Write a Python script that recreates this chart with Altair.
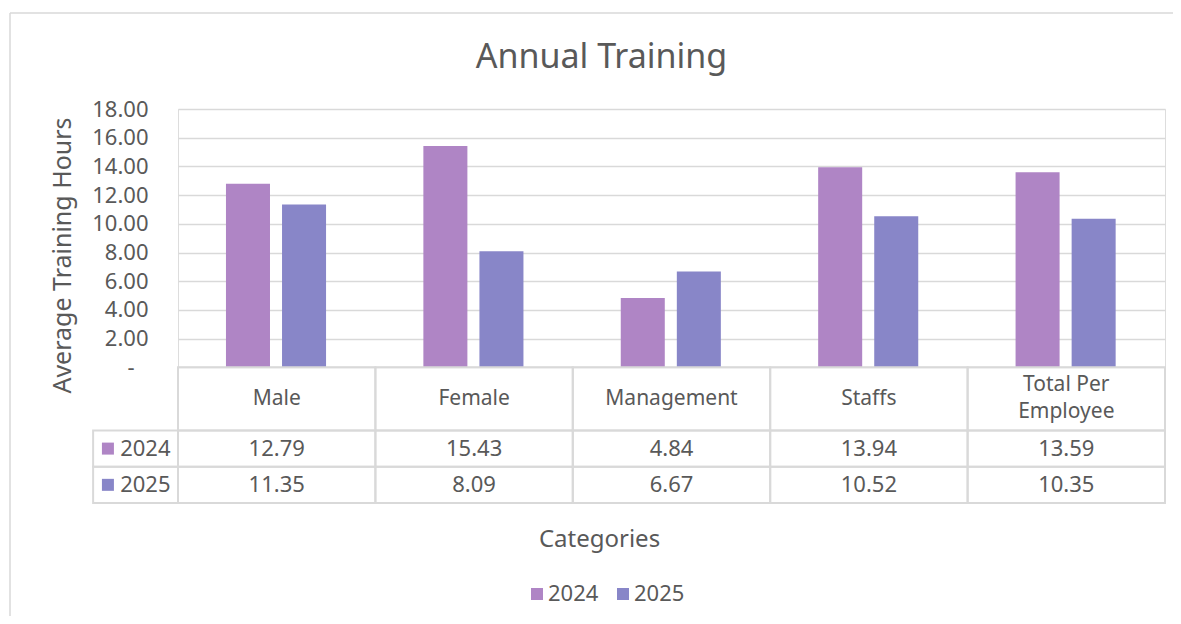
import altair as alt
import pandas as pd

# ---------------- data ----------------
categories = ["Male", "Female", "Management", "Staffs", "Total Per\nEmployee"]
years = ["2024", "2025"]
values_2024 = [12.79, 15.43, 4.84, 13.94, 13.59]
values_2025 = [11.35, 8.09, 6.67, 10.52, 10.35]
y_ticks = [0, 2, 4, 6, 8, 10, 12, 14, 16, 18]

# ---------------- style ----------------
COLORS = ["#AF85C5", "#8886C8"]
TEXT = "#595959"
LINE = "#D9D9D9"
FONT = "Noto Sans"

# layout constants (data units of the x / y scales)
BAR_LEFT = {"2024": 0.243, "2025": 0.527}
BAR_W = 0.223
HEAD = (0.0, -4.4)
ROWS = {"2024": (-4.4, -6.92), "2025": (-6.92, -9.45)}
LEFT_COL = -0.43
SQ_X = -0.355
YEAR_TX = -0.293
PX_PER_UNIT = 394 / 27.45
LINE_H = 27

series = {"2024": values_2024, "2025": values_2025}

cells = []
for i, c in enumerate(categories):
    for y in years:
        v = series[y][i]
        r0, r1 = ROWS[y]
        cells.append(dict(cat=c, year=y, value=v,
                          x0=i + BAR_LEFT[y], x1=i + BAR_LEFT[y] + BAR_W,
                          c0=i, c1=i + 1, xc=i + 0.5,
                          label=f"{v:.2f}", r0=r0, r1=r1, rc=(r0 + r1) / 2))
df = pd.DataFrame(cells)

head_rows = []
for i, c in enumerate(categories):
    n = c.count("\n") + 1
    mid = (HEAD[0] + HEAD[1]) / 2
    head_rows.append(dict(cat=c, c0=i, c1=i + 1, xc=i + 0.5, r0=HEAD[0], r1=HEAD[1],
                          rc=mid + (n - 1) * LINE_H / 2 / PX_PER_UNIT))
head = pd.DataFrame(head_rows)

left = pd.DataFrame([dict(year=y, c0=LEFT_COL, c1=0, sx=SQ_X, tx=YEAR_TX,
                          r0=ROWS[y][0], r1=ROWS[y][1],
                          rc=(ROWS[y][0] + ROWS[y][1]) / 2) for y in years])

one = pd.DataFrame({"k": [0]})

xs = alt.Scale(domain=[0, 5], nice=False, zero=False)
ys = alt.Scale(domain=[-9.45, 18], nice=False, zero=False)

x_axis = alt.Axis(title="Categories", labels=False, ticks=False, domain=False,
                  grid=False, titleX=421, titleY=36, titleFontSize=24,
                  titleColor=TEXT, titleFontWeight="normal",
                  titleBaseline="middle", titleFont=FONT)
y_axis = alt.Axis(values=y_ticks,
                  labelExpr="datum.value == 0 ? '-' : format(datum.value, '.2f')",
                  grid=True, gridColor=LINE, gridWidth=1.5, domain=False,
                  ticks=False, tickSize=0,
                  labelPadding={"condition": {"test": "datum.value === 0", "value": 44},
                                "value": 30},
                  labelFontSize=22, labelColor=TEXT, labelFont=FONT,
                  title="Average Training Hours", titleFontSize=25,
                  titleColor=TEXT, titleFontWeight="normal", titleFont=FONT,
                  titleX=-116, titleY=146, titleBaseline="middle")

color_scale = alt.Scale(domain=years, range=COLORS)

# chart-area frame (top and left edges visible)
frame_top = alt.Chart(one).mark_rule(color=LINE, strokeWidth=1.5).encode(
    x=alt.value(-168), x2=alt.value(1100), y=alt.value(-96))
frame_left = alt.Chart(one).mark_rule(color=LINE, strokeWidth=1.5).encode(
    x=alt.value(-168), y=alt.value(-96), y2=alt.value(700))

title = alt.Chart(one).mark_text(text="Annual Training", fontSize=34, color=TEXT,
                                 font=FONT, baseline="middle").encode(
    x=alt.value(423.5), y=alt.value(-51))

bars = alt.Chart(df).mark_bar().encode(
    x=alt.X("x0:Q", scale=xs, axis=x_axis),
    x2="x1:Q",
    y=alt.Y("value:Q", scale=ys, axis=y_axis),
    y2=alt.datum(0),
    color=alt.Color("year:N", scale=color_scale,
                    legend=alt.Legend(title=None, orient="none", legendX=348,
                                      legendY=474, direction="horizontal",
                                      symbolType="square", symbolSize=144,
                                      symbolStrokeWidth=0,
                                      labelFontSize=22, labelColor=TEXT,
                                      labelFont=FONT, labelOffset=0,
                                      columnPadding=13, padding=0)),
)

head_cells = alt.Chart(head).mark_rect(fillOpacity=0, stroke=LINE, strokeWidth=2).encode(
    x=alt.X("c0:Q", scale=xs), x2="c1:Q", y=alt.Y("r0:Q", scale=ys), y2="r1:Q")
head_text = alt.Chart(head).mark_text(fontSize=21, color=TEXT, font=FONT,
                                      lineBreak="\n", lineHeight=LINE_H,
                                      baseline="middle").encode(
    x=alt.X("xc:Q", scale=xs), y=alt.Y("rc:Q", scale=ys), text="cat:N")

val_cells = alt.Chart(df).mark_rect(fillOpacity=0, stroke=LINE, strokeWidth=2).encode(
    x=alt.X("c0:Q", scale=xs), x2="c1:Q", y=alt.Y("r0:Q", scale=ys), y2="r1:Q")
val_text = alt.Chart(df).mark_text(fontSize=22, color=TEXT, font=FONT,
                                   baseline="middle").encode(
    x=alt.X("xc:Q", scale=xs), y=alt.Y("rc:Q", scale=ys), text="label:N")

left_cells = alt.Chart(left).mark_rect(fillOpacity=0, stroke=LINE, strokeWidth=2).encode(
    x=alt.X("c0:Q", scale=xs), x2="c1:Q", y=alt.Y("r0:Q", scale=ys), y2="r1:Q")
left_sq = alt.Chart(left).mark_square(size=144, opacity=1).encode(
    x=alt.X("sx:Q", scale=xs), y=alt.Y("rc:Q", scale=ys),
    color=alt.Color("year:N", scale=color_scale, legend=None))
left_text = alt.Chart(left).mark_text(fontSize=22, color=TEXT, font=FONT,
                                      align="left", baseline="middle").encode(
    x=alt.X("tx:Q", scale=xs), y=alt.Y("rc:Q", scale=ys), text="year:N")

chart = alt.layer(frame_top, frame_left, title, bars, head_cells, val_cells,
                  left_cells, head_text, val_text, left_sq, left_text).properties(
    width=987, height=394,
    padding={"left": 170, "top": 101, "right": 8, "bottom": 113},
    autosize=alt.AutoSizeParams(type="none"),
).configure_view(stroke=None).configure(font=FONT)

chart.save("out.html", embed_options={"renderer": "svg", "actions": False})
